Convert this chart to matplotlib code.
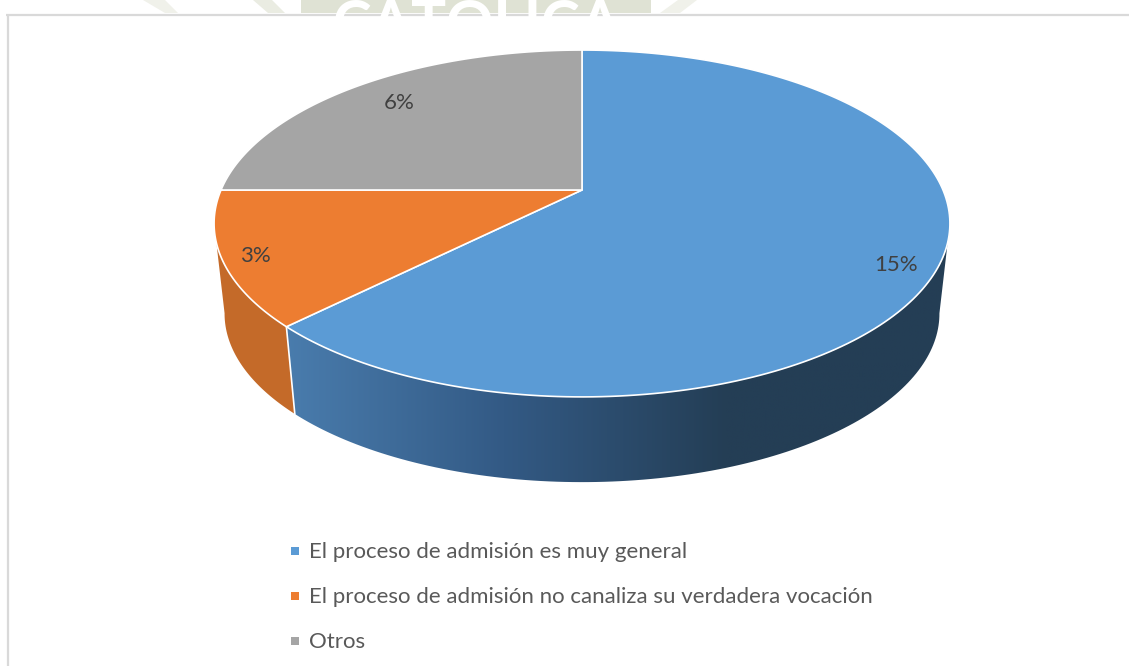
import numpy as np
import matplotlib
matplotlib.use('Agg')
import matplotlib.pyplot as plt
from matplotlib.patches import Polygon, Rectangle
from matplotlib.colors import LinearSegmentedColormap

categories = ['El proceso de admisión es muy general',
              'El proceso de admisión no canaliza su verdadera vocación',
              'Otros']
values = [15, 3, 6]
labels = ['15%', '3%', '6%']
colors = ['#5b9bd5', '#ed7d31', '#a5a5a5']

plt.rcParams['font.family'] = ['Lato', 'DejaVu Sans']

W, H = 1129, 666
fig = plt.figure(figsize=(W / 100, H / 100), dpi=100)
ax = fig.add_axes([0, 0, 1, 1])
ax.set_xlim(0, W)
ax.set_ylim(H, 0)
ax.axis('off')

# perspective of the pie disc, pixel positions
CX, CY = 582.0, 190.0
KX, KY, PERSP = 361.0, -130.3, 0.193
VANISH_Y, DEPTH_SCALE = 3387.0, 0.9715


def top_rim(theta):
    s = 1 + PERSP * np.sin(theta)
    return CX + KX * np.cos(theta) / s, (CY + KY * np.sin(theta)) / s


def low_rim(theta):
    x, y = top_rim(theta)
    return CX + (x - CX) * DEPTH_SCALE, VANISH_Y - (VANISH_Y - y) * DEPTH_SCALE


def wall_poly(a0, a1):
    t = np.radians(np.linspace(a0, a1, 120))
    x0, y0 = top_rim(t)
    x1, y1 = low_rim(t)
    return np.column_stack([np.r_[x0, x1[::-1]], np.r_[y0, y1[::-1]]])


# watermark strip above the chart frame
ax.add_patch(Rectangle((301, 0), 350, 13, fc='#dfe2d4', ec='none'))
ax.add_patch(Polygon([[143, 0], [165, 0], [178, 13], [165, 13]], fc='#f0f1ea', ec='none'))
ax.add_patch(Polygon([[253, 0], [272, 0], [285, 13], [268, 13]], fc='#eaecE2', ec='none'))
ax.add_patch(Polygon([[678, 0], [697, 0], [680, 13], [660, 13]], fc='#f0f1ea', ec='none'))
wm_text = ax.text(477, 26, 'CATOLICA', color='white', fontsize=42, ha='center', va='center',
                  fontweight='bold')
wm_text.set_clip_path(Rectangle((0, 0), W, 13, transform=ax.transData))

# frame, only top and left are visible
ax.plot([6, W], [14.5, 14.5], color='#d9d9d9', lw=1.6, solid_capstyle='butt')
ax.plot([8, 8], [14, H], color='#d9d9d9', lw=1.6, solid_capstyle='butt')

# slice angles, clockwise from the top
fracs = np.array(values) / np.sum(values)
edges = 90 - 360 * np.r_[0, np.cumsum(fracs)]

# side walls
blue_wall = LinearSegmentedColormap.from_list('blue_wall', ['#4a7dae', '#335a85', '#243e55', '#243e55'])
grad = np.linspace(0, 1, 256).reshape(1, -1)
poly = Polygon(wall_poly(edges[1], -11), fc='none', ec='none')
ax.add_patch(poly)
im = ax.imshow(grad, cmap=blue_wall, extent=[280, 950, 490, 240], aspect='auto', zorder=1)
im.set_clip_path(poly)
ax.set_xlim(0, W)
ax.set_ylim(H, 0)

ax.add_patch(Polygon(wall_poly(-169, edges[1]), fc='#c46a29', ec='none', zorder=1))

# white seam between the two walls
t = np.radians(edges[1])
ax.plot([top_rim(t)[0], low_rim(t)[0]], [top_rim(t)[1], low_rim(t)[1]], color='white', lw=1.2, zorder=2)

# top faces
for i in range(len(values)):
    t = np.radians(np.linspace(edges[i], edges[i + 1], 200))
    x, y = top_rim(t)
    pts = np.column_stack([np.r_[CX, x], np.r_[CY, y]])
    ax.add_patch(Polygon(pts, closed=True, fc=colors[i], ec='white', lw=1.2, joinstyle='round', zorder=3))

# data labels
label_x = [896, 255, 399]
label_y = [265, 256, 103]
for lx, ly, s in zip(label_x, label_y, labels):
    ax.text(lx, ly, s, color='#404040', fontsize=16, ha='center', va='center', zorder=4)

# legend
legend_y = [551, 596, 641]
for ly, c, s in zip(legend_y, colors, categories):
    ax.add_patch(Rectangle((291, ly - 4), 8, 8, fc=c, ec='none'))
    ax.text(309, ly + 1, s, color='#595959', fontsize=16, ha='left', va='center')

fig.savefig('out.png', dpi=100, facecolor='white')
